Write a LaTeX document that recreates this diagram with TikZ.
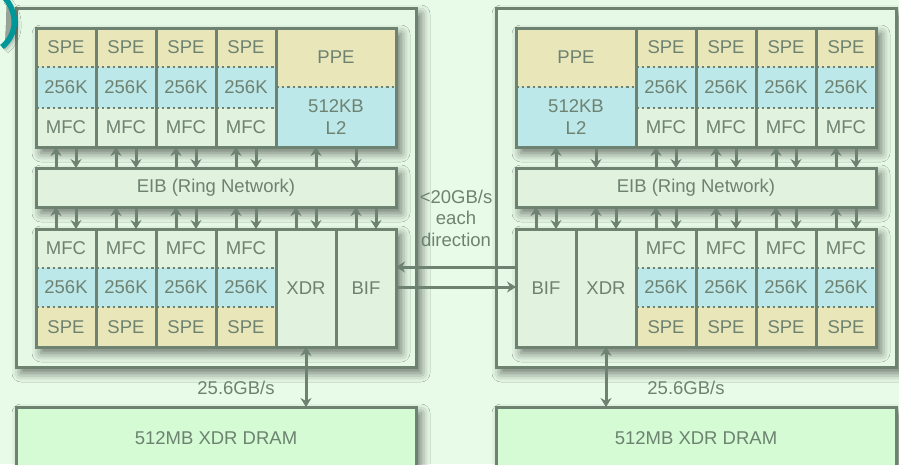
\documentclass[tikz,border=0pt]{standalone}
\usepackage{fontspec}
\setmainfont{Liberation Sans}
\usetikzlibrary{arrows.meta,shadows.blur}
\definecolor{bg}{HTML}{E8FBE8}
\definecolor{edge}{HTML}{6D8270}
\definecolor{spec}{HTML}{E9E6BA}
\definecolor{memc}{HTML}{BDE8EA}
\definecolor{pale}{HTML}{E1F2DF}
\definecolor{dram}{HTML}{D4FBD4}
\definecolor{chip}{HTML}{E6F9E6}
\definecolor{tealc}{HTML}{00979A}
\newcommand\cellnode[7]{\node[#6,anchor=north west,minimum width={#4-#2},minimum height={#5-#3}] (#1) at (#2,#3) {#7};}
\begin{document}
\begin{tikzpicture}[x=1pt,y=-1pt,
  every node/.style={text=edge,font=\fontsize{18.5}{21.5}\selectfont,inner sep=0pt,outer sep=0pt},
  colbox/.style={draw=edge,line width=3pt},
  shadowed/.style={blur shadow={shadow xshift=5pt,shadow yshift=-6pt,shadow blur radius=9pt,shadow opacity=55}},
  dotsep/.style={draw=edge,line width=2.5pt,dash pattern=on 2.5pt off 3pt},
  flow/.style={draw=edge,line width=3pt,-{Stealth[length=9pt,width=11pt,inset=3pt]}},
  dflow/.style={draw=edge,line width=3pt,{Stealth[length=9pt,width=11pt,inset=3pt]}-{Stealth[length=9pt,width=11pt,inset=3pt]}}]
\useasboundingbox (0,0) rectangle (899,464);
\clip (0,0) rectangle (899,464);
\fill[bg] (0,0) rectangle (899,464);

% chips
\cellnode{chipL}{16}{8}{416}{367}{colbox,shadowed,fill=chip}{}
\cellnode{chipR}{496}{8}{896}{367}{colbox,shadowed,fill=chip}{}

% teal fragment
\draw[tealc,line width=5.5pt,blur shadow={shadow xshift=3pt,shadow yshift=-3pt,shadow blur radius=4pt,shadow opacity=35}] (4,-3) .. controls (18,12) and (18,34) .. (2,47);

% ---------- left chip, top block ----------
\cellnode{ltblk}{36}{28}{396}{147}{shadowed,fill=pale}{}
\foreach \i/\xa in {1/36,2/96,3/156,4/216}{
  \pgfmathsetmacro\xb{\xa+60}
  \cellnode{lts\i}{\xa}{28}{\xb}{67}{fill=spec}{SPE}
  \cellnode{ltm\i}{\xa}{67}{\xb}{108}{fill=memc}{256K}
  \cellnode{ltf\i}{\xa}{108}{\xb}{147}{fill=pale}{MFC}
  \draw[dotsep] (\xa,67) -- (\xb,67);
  \draw[dotsep] (\xa,108) -- (\xb,108);
  \cellnode{lt\i}{\xa}{28}{\xb}{147}{colbox}{}
}
\cellnode{ltppeA}{276}{28}{396}{87}{fill=spec}{PPE}
\cellnode{ltppeB}{276}{87}{396}{147}{fill=memc,align=center}{512KB\\L2}
\draw[dotsep] (276,87) -- (396,87);
\cellnode{ltppe}{276}{28}{396}{147}{colbox}{}

% EIB left
\cellnode{eibL}{36}{168}{396}{207}{colbox,shadowed,fill=pale}{EIB (Ring Network)}

% ---------- left chip, bottom block ----------
\cellnode{lbblk}{36}{229}{396}{347}{shadowed,fill=pale}{}
\foreach \i/\xa in {1/36,2/96,3/156,4/216}{
  \pgfmathsetmacro\xb{\xa+60}
  \cellnode{lbf\i}{\xa}{229}{\xb}{268}{fill=pale}{MFC}
  \cellnode{lbm\i}{\xa}{268}{\xb}{307}{fill=memc}{256K}
  \cellnode{lbs\i}{\xa}{307}{\xb}{347}{fill=spec}{SPE}
  \draw[dotsep] (\xa,268) -- (\xb,268);
  \draw[dotsep] (\xa,307) -- (\xb,307);
  \cellnode{lb\i}{\xa}{229}{\xb}{347}{colbox}{}
}
\cellnode{lbxdr}{276}{229}{336}{347}{colbox,fill=pale}{XDR}
\cellnode{lbbif}{336}{229}{396}{347}{colbox,fill=pale}{BIF}

% ---------- right chip, top block ----------
\cellnode{rtblk}{516}{28}{876}{147}{shadowed,fill=pale}{}
\cellnode{rtppeA}{516}{28}{636}{87}{fill=spec}{PPE}
\cellnode{rtppeB}{516}{87}{636}{147}{fill=memc,align=center}{512KB\\L2}
\draw[dotsep] (516,87) -- (636,87);
\cellnode{rtppe}{516}{28}{636}{147}{colbox}{}
\foreach \i/\xa in {1/636,2/696,3/756,4/816}{
  \pgfmathsetmacro\xb{\xa+60}
  \cellnode{rts\i}{\xa}{28}{\xb}{67}{fill=spec}{SPE}
  \cellnode{rtm\i}{\xa}{67}{\xb}{108}{fill=memc}{256K}
  \cellnode{rtf\i}{\xa}{108}{\xb}{147}{fill=pale}{MFC}
  \draw[dotsep] (\xa,67) -- (\xb,67);
  \draw[dotsep] (\xa,108) -- (\xb,108);
  \cellnode{rt\i}{\xa}{28}{\xb}{147}{colbox}{}
}

% EIB right
\cellnode{eibR}{516}{168}{876}{207}{colbox,shadowed,fill=pale}{EIB (Ring Network)}

% ---------- right chip, bottom block ----------
\cellnode{rbblk}{516}{229}{876}{347}{shadowed,fill=pale}{}
\cellnode{rbbif}{516}{229}{576}{347}{colbox,fill=pale}{BIF}
\cellnode{rbxdr}{576}{229}{636}{347}{colbox,fill=pale}{XDR}
\foreach \i/\xa in {1/636,2/696,3/756,4/816}{
  \pgfmathsetmacro\xb{\xa+60}
  \cellnode{rbf\i}{\xa}{229}{\xb}{268}{fill=pale}{MFC}
  \cellnode{rbm\i}{\xa}{268}{\xb}{307}{fill=memc}{256K}
  \cellnode{rbs\i}{\xa}{307}{\xb}{347}{fill=spec}{SPE}
  \draw[dotsep] (\xa,268) -- (\xb,268);
  \draw[dotsep] (\xa,307) -- (\xb,307);
  \cellnode{rb\i}{\xa}{229}{\xb}{347}{colbox}{}
}

% ---------- arrows to / from EIB ----------
\foreach \n/\d in {lt1/10,lt2/10,lt3/10,lt4/10,ltppe/20}{
  \draw[flow] ([xshift=-\d pt]\n.south |- eibL.north) -- ([xshift=-\d pt]\n.south);
  \draw[flow] ([xshift=\d pt]\n.south) -- ([xshift=\d pt]\n.south |- eibL.north);
}
\foreach \n in {lb1,lb2,lb3,lb4,lbxdr,lbbif}{
  \draw[flow] ([xshift=-10pt]\n.north) -- ([xshift=-10pt]\n.north |- eibL.south);
  \draw[flow] ([xshift=10pt]\n.north |- eibL.south) -- ([xshift=10pt]\n.north);
}
\foreach \n/\d in {rtppe/20,rt1/10,rt2/10,rt3/10,rt4/10}{
  \draw[flow] ([xshift=-\d pt]\n.south |- eibR.north) -- ([xshift=-\d pt]\n.south);
  \draw[flow] ([xshift=\d pt]\n.south) -- ([xshift=\d pt]\n.south |- eibR.north);
}
\foreach \n in {rbbif,rbxdr,rb1,rb2,rb3,rb4}{
  \draw[flow] ([xshift=-10pt]\n.north) -- ([xshift=-10pt]\n.north |- eibR.south);
  \draw[flow] ([xshift=10pt]\n.north |- eibR.south) -- ([xshift=10pt]\n.north);
}

% ---------- chip-to-chip ----------
\draw[flow] ([yshift=21pt]rbbif.west) -- ([yshift=21pt]lbbif.east);
\draw[flow] ([yshift=1pt]lbbif.east) -- ([yshift=1pt]rbbif.west);
\node[align=center] (link) at (456,218) {<20GB/s\\each\\direction};

% ---------- DRAM ----------
\cellnode{dramL}{16}{407}{416}{469}{colbox,shadowed,fill=dram}{512MB XDR DRAM}
\cellnode{dramR}{496}{407}{896}{469}{colbox,shadowed,fill=dram}{512MB XDR DRAM}
\draw[dflow] (lbxdr.south) -- (lbxdr.south |- dramL.north);
\draw[dflow] (rbxdr.south) -- (rbxdr.south |- dramR.north);
\node (bwL) at (236,388) {25.6GB/s};
\node (bwR) at (686,388) {25.6GB/s};
\end{tikzpicture}
\end{document}
